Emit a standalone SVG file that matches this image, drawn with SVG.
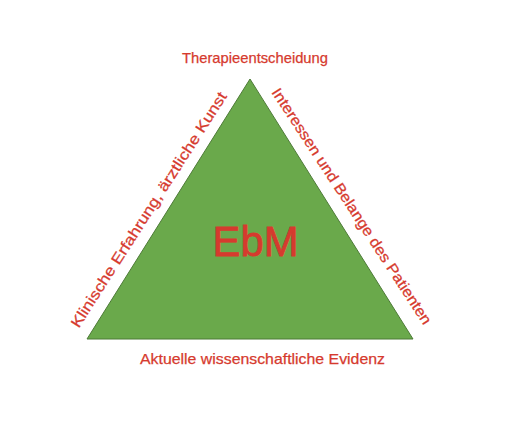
<svg xmlns="http://www.w3.org/2000/svg" width="526" height="440" viewBox="0 0 526 440">
<style>
.lbl{font-family:"Liberation Sans",Arial,sans-serif;font-size:15px;fill:#d63a2e;text-anchor:middle;stroke:#d63a2e;stroke-width:0.25}
.big{font-family:"Liberation Sans",Arial,sans-serif;font-size:43px;fill:#d63a2e;text-anchor:middle;stroke:#d63a2e;stroke-width:0.8}
.tri{fill:#6aa94b;stroke:#4d7a37;stroke-width:1}
</style>
<rect width="526" height="440" fill="#ffffff"/>
<g id="triangle">
<polygon class="tri" points="250,79 87,339 413,339"/>
<text class="big" x="255.5" y="256" textLength="86" lengthAdjust="spacingAndGlyphs">EbM</text>
</g>
<g id="top"><text class="lbl" x="255" y="63" textLength="146" lengthAdjust="spacingAndGlyphs">Therapieentscheidung</text></g>
<g id="bottom"><text class="lbl" x="262.5" y="364" textLength="245" lengthAdjust="spacingAndGlyphs">Aktuelle wissenschaftliche Evidenz</text></g>
<g id="left"><text class="lbl" transform="translate(153,212.5) rotate(-57.4)" textLength="276" lengthAdjust="spacingAndGlyphs">Klinische Erfahrung, ärztliche Kunst</text></g>
<g id="right"><text class="lbl" transform="translate(347.5,209) rotate(56.8)" textLength="279" lengthAdjust="spacingAndGlyphs">Interessen und Belange des Patienten</text></g>
<g id="connectors"/>
</svg>
